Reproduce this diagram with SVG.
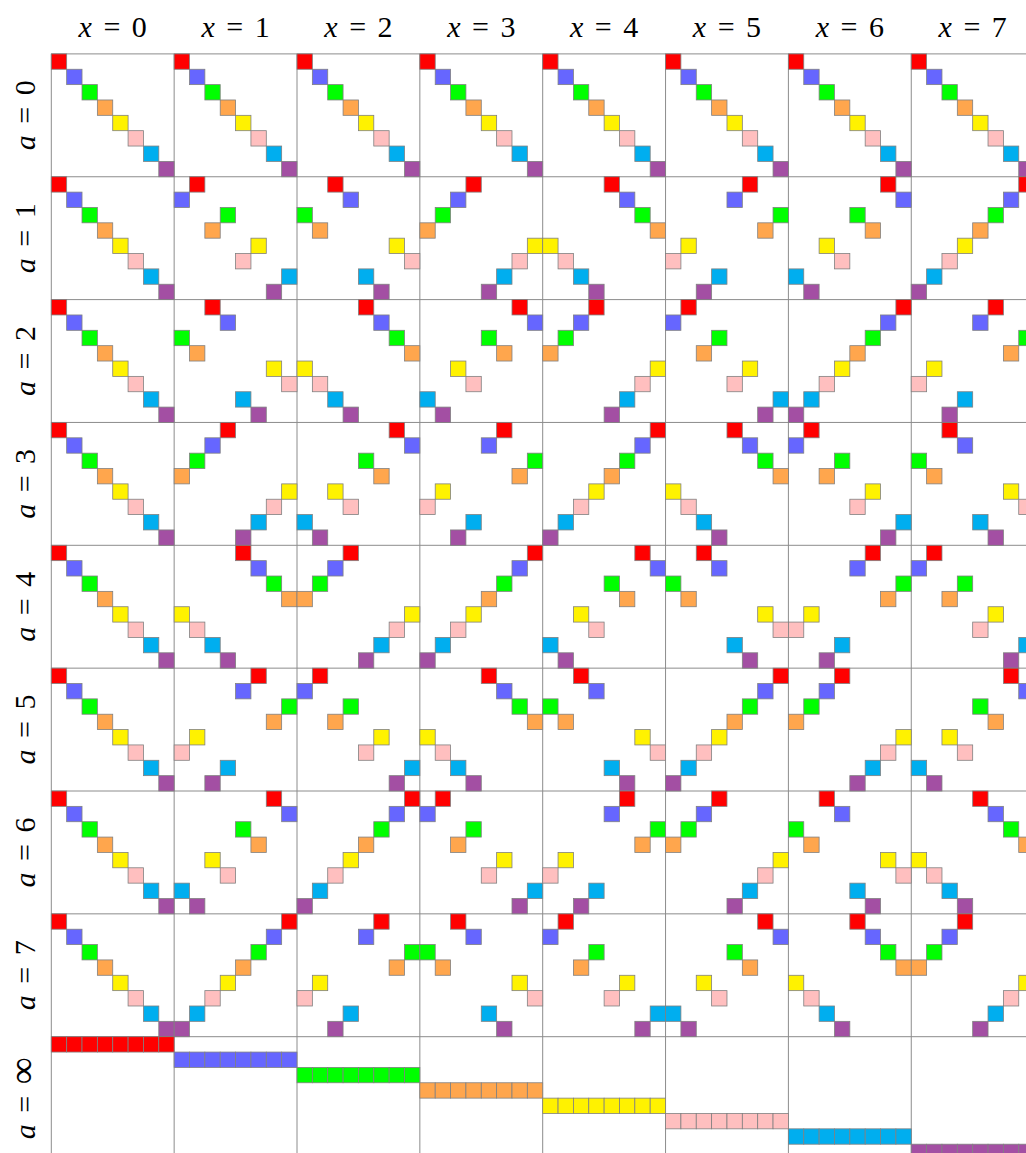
<svg xmlns="http://www.w3.org/2000/svg" width="1026" height="1153" viewBox="0 0 1026 1153">
<style>
.sq{stroke:#808080;stroke-width:0.8}
.c0{fill:#ff0000}.c1{fill:#6666ff}.c2{fill:#00ff00}.c3{fill:#ffa64d}.c4{fill:#fff200}.c5{fill:#ffbfbf}.c6{fill:#00aeef}.c7{fill:#a34fa3}
.grid line{stroke:#8c8c8c;stroke-width:1}
.lbl text{font-family:"Liberation Serif","DejaVu Serif",serif;font-size:30px;fill:#000;word-spacing:4px}
.it{font-style:italic}
.big{font-size:38px}
</style>
<defs>
<g id="p0"><rect class="sq c0" x="0" y="0" width="15.36" height="15.36"/><rect class="sq c1" x="15.36" y="15.36" width="15.36" height="15.36"/><rect class="sq c2" x="30.71" y="30.71" width="15.36" height="15.36"/><rect class="sq c3" x="46.07" y="46.07" width="15.36" height="15.36"/><rect class="sq c4" x="61.43" y="61.43" width="15.36" height="15.36"/><rect class="sq c5" x="76.78" y="76.78" width="15.36" height="15.36"/><rect class="sq c6" x="92.14" y="92.14" width="15.36" height="15.36"/><rect class="sq c7" x="107.49" y="107.49" width="15.36" height="15.36"/></g>
<g id="p1"><rect class="sq c0" x="15.36" y="0" width="15.36" height="15.36"/><rect class="sq c1" x="0" y="15.36" width="15.36" height="15.36"/><rect class="sq c2" x="46.07" y="30.71" width="15.36" height="15.36"/><rect class="sq c3" x="30.71" y="46.07" width="15.36" height="15.36"/><rect class="sq c4" x="76.78" y="61.43" width="15.36" height="15.36"/><rect class="sq c5" x="61.43" y="76.78" width="15.36" height="15.36"/><rect class="sq c6" x="107.49" y="92.14" width="15.36" height="15.36"/><rect class="sq c7" x="92.14" y="107.49" width="15.36" height="15.36"/></g>
<g id="p2"><rect class="sq c0" x="30.71" y="0" width="15.36" height="15.36"/><rect class="sq c1" x="46.07" y="15.36" width="15.36" height="15.36"/><rect class="sq c2" x="0" y="30.71" width="15.36" height="15.36"/><rect class="sq c3" x="15.36" y="46.07" width="15.36" height="15.36"/><rect class="sq c4" x="92.14" y="61.43" width="15.36" height="15.36"/><rect class="sq c5" x="107.49" y="76.78" width="15.36" height="15.36"/><rect class="sq c6" x="61.43" y="92.14" width="15.36" height="15.36"/><rect class="sq c7" x="76.78" y="107.49" width="15.36" height="15.36"/></g>
<g id="p3"><rect class="sq c0" x="46.07" y="0" width="15.36" height="15.36"/><rect class="sq c1" x="30.71" y="15.36" width="15.36" height="15.36"/><rect class="sq c2" x="15.36" y="30.71" width="15.36" height="15.36"/><rect class="sq c3" x="0" y="46.07" width="15.36" height="15.36"/><rect class="sq c4" x="107.49" y="61.43" width="15.36" height="15.36"/><rect class="sq c5" x="92.14" y="76.78" width="15.36" height="15.36"/><rect class="sq c6" x="76.78" y="92.14" width="15.36" height="15.36"/><rect class="sq c7" x="61.43" y="107.49" width="15.36" height="15.36"/></g>
<g id="p4"><rect class="sq c0" x="61.43" y="0" width="15.36" height="15.36"/><rect class="sq c1" x="76.78" y="15.36" width="15.36" height="15.36"/><rect class="sq c2" x="92.14" y="30.71" width="15.36" height="15.36"/><rect class="sq c3" x="107.49" y="46.07" width="15.36" height="15.36"/><rect class="sq c4" x="0" y="61.43" width="15.36" height="15.36"/><rect class="sq c5" x="15.36" y="76.78" width="15.36" height="15.36"/><rect class="sq c6" x="30.71" y="92.14" width="15.36" height="15.36"/><rect class="sq c7" x="46.07" y="107.49" width="15.36" height="15.36"/></g>
<g id="p5"><rect class="sq c0" x="76.78" y="0" width="15.36" height="15.36"/><rect class="sq c1" x="61.43" y="15.36" width="15.36" height="15.36"/><rect class="sq c2" x="107.49" y="30.71" width="15.36" height="15.36"/><rect class="sq c3" x="92.14" y="46.07" width="15.36" height="15.36"/><rect class="sq c4" x="15.36" y="61.43" width="15.36" height="15.36"/><rect class="sq c5" x="0" y="76.78" width="15.36" height="15.36"/><rect class="sq c6" x="46.07" y="92.14" width="15.36" height="15.36"/><rect class="sq c7" x="30.71" y="107.49" width="15.36" height="15.36"/></g>
<g id="p6"><rect class="sq c0" x="92.14" y="0" width="15.36" height="15.36"/><rect class="sq c1" x="107.49" y="15.36" width="15.36" height="15.36"/><rect class="sq c2" x="61.43" y="30.71" width="15.36" height="15.36"/><rect class="sq c3" x="76.78" y="46.07" width="15.36" height="15.36"/><rect class="sq c4" x="30.71" y="61.43" width="15.36" height="15.36"/><rect class="sq c5" x="46.07" y="76.78" width="15.36" height="15.36"/><rect class="sq c6" x="0" y="92.14" width="15.36" height="15.36"/><rect class="sq c7" x="15.36" y="107.49" width="15.36" height="15.36"/></g>
<g id="p7"><rect class="sq c0" x="107.49" y="0" width="15.36" height="15.36"/><rect class="sq c1" x="92.14" y="15.36" width="15.36" height="15.36"/><rect class="sq c2" x="76.78" y="30.71" width="15.36" height="15.36"/><rect class="sq c3" x="61.43" y="46.07" width="15.36" height="15.36"/><rect class="sq c4" x="46.07" y="61.43" width="15.36" height="15.36"/><rect class="sq c5" x="30.71" y="76.78" width="15.36" height="15.36"/><rect class="sq c6" x="15.36" y="92.14" width="15.36" height="15.36"/><rect class="sq c7" x="0" y="107.49" width="15.36" height="15.36"/></g>
<g id="inf"><rect class="sq" x="0" y="0" width="15.36" height="15.36"/><rect class="sq" x="15.36" y="0" width="15.36" height="15.36"/><rect class="sq" x="30.71" y="0" width="15.36" height="15.36"/><rect class="sq" x="46.07" y="0" width="15.36" height="15.36"/><rect class="sq" x="61.43" y="0" width="15.36" height="15.36"/><rect class="sq" x="76.78" y="0" width="15.36" height="15.36"/><rect class="sq" x="92.14" y="0" width="15.36" height="15.36"/><rect class="sq" x="107.49" y="0" width="15.36" height="15.36"/></g>
</defs>
<rect x="0" y="0" width="1026" height="1153" fill="#ffffff"/>
<g class="grid" id="grid">
<line x1="51.3" y1="53.9" x2="51.3" y2="1153"/><line x1="174.15" y1="53.9" x2="174.15" y2="1153"/><line x1="297" y1="53.9" x2="297" y2="1153"/><line x1="419.85" y1="53.9" x2="419.85" y2="1153"/><line x1="542.7" y1="53.9" x2="542.7" y2="1153"/><line x1="665.55" y1="53.9" x2="665.55" y2="1153"/><line x1="788.4" y1="53.9" x2="788.4" y2="1153"/><line x1="911.25" y1="53.9" x2="911.25" y2="1153"/>
<line x1="51.3" y1="53.9" x2="1026" y2="53.9"/><line x1="51.3" y1="176.75" x2="1026" y2="176.75"/><line x1="51.3" y1="299.6" x2="1026" y2="299.6"/><line x1="51.3" y1="422.45" x2="1026" y2="422.45"/><line x1="51.3" y1="545.3" x2="1026" y2="545.3"/><line x1="51.3" y1="668.15" x2="1026" y2="668.15"/><line x1="51.3" y1="791" x2="1026" y2="791"/><line x1="51.3" y1="913.85" x2="1026" y2="913.85"/><line x1="51.3" y1="1036.7" x2="1026" y2="1036.7"/>
</g>
<g id="row-a0">
<g id="cell-a0-x0"><use href="#p0" x="51.3" y="53.9"/></g><g id="cell-a0-x1"><use href="#p0" x="174.15" y="53.9"/></g><g id="cell-a0-x2"><use href="#p0" x="297" y="53.9"/></g><g id="cell-a0-x3"><use href="#p0" x="419.85" y="53.9"/></g><g id="cell-a0-x4"><use href="#p0" x="542.7" y="53.9"/></g><g id="cell-a0-x5"><use href="#p0" x="665.55" y="53.9"/></g><g id="cell-a0-x6"><use href="#p0" x="788.4" y="53.9"/></g><g id="cell-a0-x7"><use href="#p0" x="911.25" y="53.9"/></g>
</g>
<g id="row-a1">
<g id="cell-a1-x0"><use href="#p0" x="51.3" y="176.75"/></g><g id="cell-a1-x1"><use href="#p1" x="174.15" y="176.75"/></g><g id="cell-a1-x2"><use href="#p2" x="297" y="176.75"/></g><g id="cell-a1-x3"><use href="#p3" x="419.85" y="176.75"/></g><g id="cell-a1-x4"><use href="#p4" x="542.7" y="176.75"/></g><g id="cell-a1-x5"><use href="#p5" x="665.55" y="176.75"/></g><g id="cell-a1-x6"><use href="#p6" x="788.4" y="176.75"/></g><g id="cell-a1-x7"><use href="#p7" x="911.25" y="176.75"/></g>
</g>
<g id="row-a2">
<g id="cell-a2-x0"><use href="#p0" x="51.3" y="299.6"/></g><g id="cell-a2-x1"><use href="#p2" x="174.15" y="299.6"/></g><g id="cell-a2-x2"><use href="#p4" x="297" y="299.6"/></g><g id="cell-a2-x3"><use href="#p6" x="419.85" y="299.6"/></g><g id="cell-a2-x4"><use href="#p3" x="542.7" y="299.6"/></g><g id="cell-a2-x5"><use href="#p1" x="665.55" y="299.6"/></g><g id="cell-a2-x6"><use href="#p7" x="788.4" y="299.6"/></g><g id="cell-a2-x7"><use href="#p5" x="911.25" y="299.6"/></g>
</g>
<g id="row-a3">
<g id="cell-a3-x0"><use href="#p0" x="51.3" y="422.45"/></g><g id="cell-a3-x1"><use href="#p3" x="174.15" y="422.45"/></g><g id="cell-a3-x2"><use href="#p6" x="297" y="422.45"/></g><g id="cell-a3-x3"><use href="#p5" x="419.85" y="422.45"/></g><g id="cell-a3-x4"><use href="#p7" x="542.7" y="422.45"/></g><g id="cell-a3-x5"><use href="#p4" x="665.55" y="422.45"/></g><g id="cell-a3-x6"><use href="#p1" x="788.4" y="422.45"/></g><g id="cell-a3-x7"><use href="#p2" x="911.25" y="422.45"/></g>
</g>
<g id="row-a4">
<g id="cell-a4-x0"><use href="#p0" x="51.3" y="545.3"/></g><g id="cell-a4-x1"><use href="#p4" x="174.15" y="545.3"/></g><g id="cell-a4-x2"><use href="#p3" x="297" y="545.3"/></g><g id="cell-a4-x3"><use href="#p7" x="419.85" y="545.3"/></g><g id="cell-a4-x4"><use href="#p6" x="542.7" y="545.3"/></g><g id="cell-a4-x5"><use href="#p2" x="665.55" y="545.3"/></g><g id="cell-a4-x6"><use href="#p5" x="788.4" y="545.3"/></g><g id="cell-a4-x7"><use href="#p1" x="911.25" y="545.3"/></g>
</g>
<g id="row-a5">
<g id="cell-a5-x0"><use href="#p0" x="51.3" y="668.15"/></g><g id="cell-a5-x1"><use href="#p5" x="174.15" y="668.15"/></g><g id="cell-a5-x2"><use href="#p1" x="297" y="668.15"/></g><g id="cell-a5-x3"><use href="#p4" x="419.85" y="668.15"/></g><g id="cell-a5-x4"><use href="#p2" x="542.7" y="668.15"/></g><g id="cell-a5-x5"><use href="#p7" x="665.55" y="668.15"/></g><g id="cell-a5-x6"><use href="#p3" x="788.4" y="668.15"/></g><g id="cell-a5-x7"><use href="#p6" x="911.25" y="668.15"/></g>
</g>
<g id="row-a6">
<g id="cell-a6-x0"><use href="#p0" x="51.3" y="791"/></g><g id="cell-a6-x1"><use href="#p6" x="174.15" y="791"/></g><g id="cell-a6-x2"><use href="#p7" x="297" y="791"/></g><g id="cell-a6-x3"><use href="#p1" x="419.85" y="791"/></g><g id="cell-a6-x4"><use href="#p5" x="542.7" y="791"/></g><g id="cell-a6-x5"><use href="#p3" x="665.55" y="791"/></g><g id="cell-a6-x6"><use href="#p2" x="788.4" y="791"/></g><g id="cell-a6-x7"><use href="#p4" x="911.25" y="791"/></g>
</g>
<g id="row-a7">
<g id="cell-a7-x0"><use href="#p0" x="51.3" y="913.85"/></g><g id="cell-a7-x1"><use href="#p7" x="174.15" y="913.85"/></g><g id="cell-a7-x2"><use href="#p5" x="297" y="913.85"/></g><g id="cell-a7-x3"><use href="#p2" x="419.85" y="913.85"/></g><g id="cell-a7-x4"><use href="#p1" x="542.7" y="913.85"/></g><g id="cell-a7-x5"><use href="#p6" x="665.55" y="913.85"/></g><g id="cell-a7-x6"><use href="#p4" x="788.4" y="913.85"/></g><g id="cell-a7-x7"><use href="#p3" x="911.25" y="913.85"/></g>
</g>
<g id="row-ainf">
<g id="cell-ainf-x0"><use href="#inf" class="c0" x="51.3" y="1036.7"/></g><g id="cell-ainf-x1"><use href="#inf" class="c1" x="174.15" y="1052.06"/></g><g id="cell-ainf-x2"><use href="#inf" class="c2" x="297" y="1067.41"/></g><g id="cell-ainf-x3"><use href="#inf" class="c3" x="419.85" y="1082.77"/></g><g id="cell-ainf-x4"><use href="#inf" class="c4" x="542.7" y="1098.13"/></g><g id="cell-ainf-x5"><use href="#inf" class="c5" x="665.55" y="1113.48"/></g><g id="cell-ainf-x6"><use href="#inf" class="c6" x="788.4" y="1128.84"/></g><g id="cell-ainf-x7"><use href="#inf" class="c7" x="911.25" y="1144.19"/></g>
</g>
<g id="col-labels" class="lbl" text-anchor="middle">
<text x="112.73" y="37"><tspan class="it">x</tspan> = 0</text>
<text x="235.58" y="37"><tspan class="it">x</tspan> = 1</text>
<text x="358.43" y="37"><tspan class="it">x</tspan> = 2</text>
<text x="481.28" y="37"><tspan class="it">x</tspan> = 3</text>
<text x="604.13" y="37"><tspan class="it">x</tspan> = 4</text>
<text x="726.98" y="37"><tspan class="it">x</tspan> = 5</text>
<text x="849.83" y="37"><tspan class="it">x</tspan> = 6</text>
<text x="972.68" y="37"><tspan class="it">x</tspan> = 7</text>
</g>
<g id="row-labels" class="lbl" text-anchor="middle">
<text transform="translate(35,115.33) rotate(-90)"><tspan class="it">a</tspan> = 0</text>
<text transform="translate(35,238.18) rotate(-90)"><tspan class="it">a</tspan> = 1</text>
<text transform="translate(35,361.03) rotate(-90)"><tspan class="it">a</tspan> = 2</text>
<text transform="translate(35,483.88) rotate(-90)"><tspan class="it">a</tspan> = 3</text>
<text transform="translate(35,606.73) rotate(-90)"><tspan class="it">a</tspan> = 4</text>
<text transform="translate(35,729.58) rotate(-90)"><tspan class="it">a</tspan> = 5</text>
<text transform="translate(35,852.43) rotate(-90)"><tspan class="it">a</tspan> = 6</text>
<text transform="translate(35,975.28) rotate(-90)"><tspan class="it">a</tspan> = 7</text>
<text transform="translate(35,1098.13) rotate(-90)"><tspan class="it">a</tspan> = <tspan class="big">∞</tspan></text>
</g>
</svg>
